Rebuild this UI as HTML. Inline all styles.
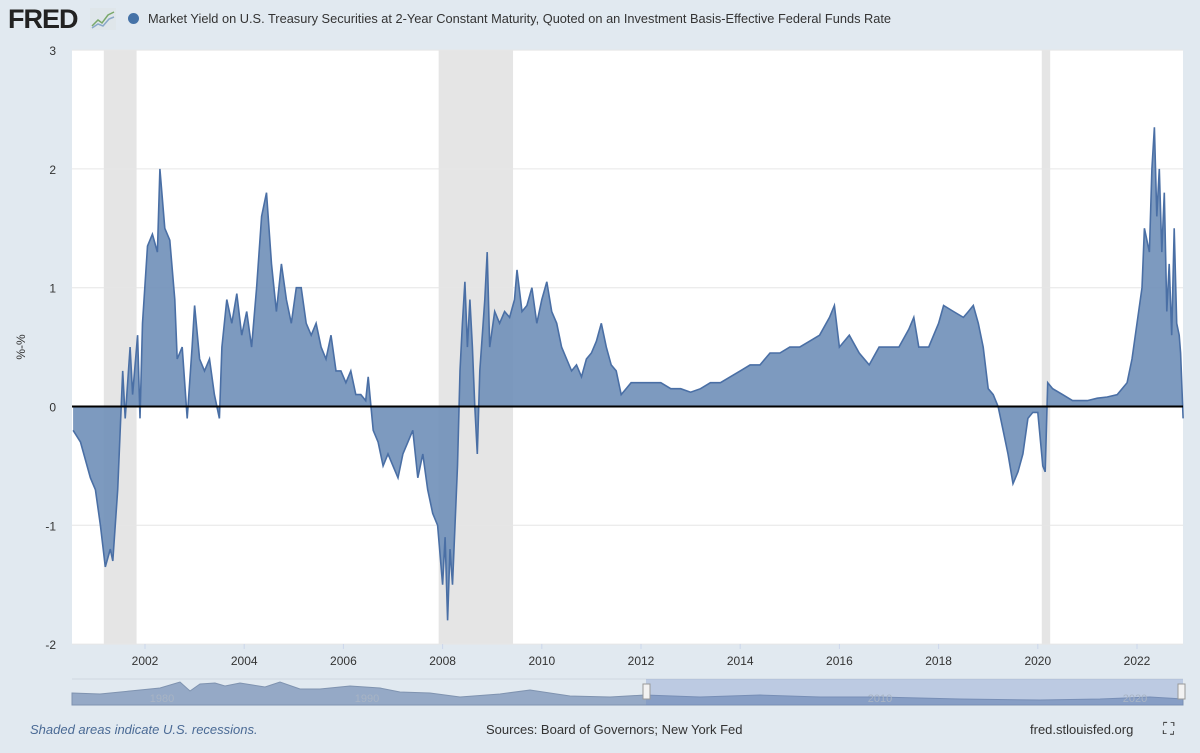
<!DOCTYPE html>
<html><head><meta charset="utf-8"><style>
body{margin:0;width:1200px;height:753px;background:#e1e9f0;font-family:"Liberation Sans",sans-serif;overflow:hidden;position:relative}
.t{position:absolute;white-space:nowrap}
</style></head><body>
<div class="t" style="left:8px;top:4px;font-size:27px;font-weight:bold;letter-spacing:-1px;color:#222">FRED</div>
<svg class="t" style="left:90px;top:8px" width="26" height="22"><rect width="26" height="22" fill="#dfe6ea"/><polyline points="2,18 8,12 12,15 18,7 24,4" fill="none" stroke="#7aa86a" stroke-width="1.5"/><polyline points="2,20 8,16 13,18 19,11 24,9" fill="none" stroke="#8aa8c8" stroke-width="1.5"/></svg>
<div class="t" style="left:128px;top:13px;width:11px;height:11px;border-radius:50%;background:#4572a7"></div>
<div class="t" style="left:148px;top:11px;font-size:12.8px;color:#333">Market Yield on U.S. Treasury Securities at 2-Year Constant Maturity, Quoted on an Investment Basis-Effective Federal Funds Rate</div>
<svg id="chart" class="t" style="left:0;top:0" width="1200" height="753"></svg>
<div class="t" style="left:30px;top:722px;font-size:13px;font-style:italic;color:#4a6a95">Shaded areas indicate U.S. recessions.</div>
<div class="t" style="left:486px;top:722px;font-size:13px;color:#333">Sources: Board of Governors; New York Fed</div>
<div class="t" style="left:1030px;top:722px;font-size:13px;color:#333">fred.stlouisfed.org</div>
<div class="t" style="left:1163px;top:721px;font-size:16px;color:#333">⛶</div>
<script>
const dates=[2000.55,2000.7,2000.9,2001.0,2001.1,2001.2,2001.3,2001.35,2001.45,2001.55,2001.6,2001.7,2001.75,2001.85,2001.9,2001.95,2002.05,2002.15,2002.25,2002.3,2002.4,2002.5,2002.6,2002.65,2002.75,2002.85,2002.95,2003.0,2003.1,2003.2,2003.3,2003.4,2003.5,2003.55,2003.65,2003.75,2003.85,2003.95,2004.05,2004.15,2004.25,2004.35,2004.45,2004.55,2004.65,2004.75,2004.85,2004.95,2005.05,2005.15,2005.25,2005.35,2005.45,2005.55,2005.65,2005.75,2005.85,2005.95,2006.05,2006.15,2006.25,2006.35,2006.45,2006.5,2006.6,2006.7,2006.8,2006.9,2007.0,2007.1,2007.2,2007.3,2007.4,2007.5,2007.6,2007.7,2007.8,2007.9,2008.0,2008.05,2008.1,2008.15,2008.2,2008.25,2008.3,2008.35,2008.4,2008.45,2008.5,2008.55,2008.6,2008.65,2008.7,2008.75,2008.85,2008.9,2008.95,2009.05,2009.15,2009.25,2009.35,2009.45,2009.5,2009.6,2009.7,2009.8,2009.9,2010.0,2010.1,2010.2,2010.3,2010.4,2010.5,2010.6,2010.7,2010.8,2010.9,2011.0,2011.1,2011.2,2011.3,2011.4,2011.5,2011.6,2011.7,2011.8,2012.0,2012.2,2012.4,2012.6,2012.8,2013.0,2013.2,2013.4,2013.6,2013.8,2014.0,2014.2,2014.4,2014.6,2014.8,2015.0,2015.2,2015.4,2015.6,2015.8,2015.9,2016.0,2016.2,2016.4,2016.6,2016.8,2017.0,2017.2,2017.4,2017.5,2017.6,2017.8,2018.0,2018.1,2018.3,2018.5,2018.6,2018.7,2018.8,2018.9,2019.0,2019.1,2019.2,2019.3,2019.4,2019.5,2019.6,2019.7,2019.8,2019.9,2020.0,2020.1,2020.15,2020.2,2020.3,2020.5,2020.7,2021.0,2021.2,2021.4,2021.6,2021.8,2021.9,2022.0,2022.1,2022.15,2022.25,2022.3,2022.35,2022.4,2022.45,2022.5,2022.55,2022.6,2022.65,2022.7,2022.75,2022.8,2022.85,2022.88,2022.93];
const spread=[-0.2,-0.3,-0.6,-0.7,-1.0,-1.35,-1.2,-1.3,-0.7,0.3,-0.1,0.5,0.1,0.6,-0.1,0.7,1.35,1.45,1.3,2.0,1.5,1.4,0.9,0.4,0.5,-0.1,0.5,0.85,0.4,0.3,0.4,0.1,-0.1,0.5,0.9,0.7,0.95,0.6,0.8,0.5,1.0,1.6,1.8,1.2,0.8,1.2,0.9,0.7,1.0,1.0,0.7,0.6,0.7,0.5,0.4,0.6,0.3,0.3,0.2,0.3,0.1,0.1,0.05,0.25,-0.2,-0.3,-0.5,-0.4,-0.5,-0.6,-0.4,-0.3,-0.2,-0.6,-0.4,-0.7,-0.9,-1.0,-1.5,-1.1,-1.8,-1.2,-1.5,-1.0,-0.5,0.3,0.7,1.05,0.5,0.9,0.5,0.0,-0.4,0.3,0.9,1.3,0.5,0.8,0.7,0.8,0.75,0.9,1.15,0.8,0.85,1.0,0.7,0.9,1.05,0.8,0.7,0.5,0.4,0.3,0.35,0.25,0.4,0.45,0.55,0.7,0.5,0.35,0.3,0.1,0.15,0.2,0.2,0.2,0.2,0.15,0.15,0.12,0.15,0.2,0.2,0.25,0.3,0.35,0.35,0.45,0.45,0.5,0.5,0.55,0.6,0.75,0.85,0.5,0.6,0.45,0.35,0.5,0.5,0.5,0.65,0.75,0.5,0.5,0.7,0.85,0.8,0.75,0.8,0.85,0.7,0.5,0.15,0.1,0.0,-0.2,-0.4,-0.65,-0.55,-0.4,-0.1,-0.05,-0.05,-0.5,-0.55,0.2,0.15,0.1,0.05,0.05,0.07,0.08,0.1,0.2,0.4,0.7,1.0,1.5,1.3,2.0,2.35,1.6,2.0,1.3,1.8,0.8,1.2,0.6,1.5,0.7,0.6,0.45,-0.1];
const yTicks=[-2,-1,0,1,2,3];
const xTicks=[2002,2004,2006,2008,2010,2012,2014,2016,2018,2020,2022];
const recStart=[2001.17,2007.92,2020.08];
const recEnd=[2001.83,2009.42,2020.25];
const navLabels=[1980,1990,2010,2020];

const L=72,R=1183,T=50,B=644;
const x=d=>145+(d-2002)*49.6;
const y=v=>406.5-v*118.8;
const svg=document.getElementById('chart');
const NS='http://www.w3.org/2000/svg';
function mk(tag,attrs){const e=document.createElementNS(NS,tag);for(const k in attrs)e.setAttribute(k,attrs[k]);svg.appendChild(e);return e;}
const bg=mk('rect',{x:L,y:T,width:R-L,height:B-T,fill:'#fff'});


recStart.forEach((s,i)=>{const r=mk('rect',{x:x(s),y:T,width:x(recEnd[i])-x(s),height:B-T,fill:'#e5e5e5'});

});
yTicks.forEach(v=>{const g=mk('line',{x1:L,x2:R,y1:y(v),y2:y(v),stroke:'#e6e6e6'});


const t=mk('text',{x:56,y:y(v)+5,'text-anchor':'end','font-size':12,fill:'#333','font-family':'Liberation Sans'});t.textContent=v;

});
xTicks.forEach(v=>{const t=mk('text',{x:x(v),y:665,'text-anchor':'middle','font-size':12,fill:'#333','font-family':'Liberation Sans'});t.textContent=v;


const k=mk('line',{x1:x(v),x2:x(v),y1:B,y2:B+5,stroke:'#ccd6eb'});

});
const yt=mk('text',{x:0,y:0,transform:'translate(25,347) rotate(-90)','text-anchor':'middle','font-size':12,fill:'#333','font-family':'Liberation Sans'});yt.textContent='%-%';


let pts=dates.map((d,i)=>x(d).toFixed(1)+','+y(spread[i]).toFixed(1));
const area=mk('path',{d:'M'+x(dates[0])+','+y(0)+' L'+pts.join(' L')+' L'+x(dates[dates.length-1])+','+y(0)+'Z',fill:'#6f8fb8',opacity:0.9});


const line=mk('polyline',{points:pts.join(' '),fill:'none',stroke:'#4a6fa5','stroke-width':1.6});


const zl=mk('line',{x1:L,x2:R,y1:y(0),y2:y(0),stroke:'#000','stroke-width':2});


const nb=mk('line',{x1:L,x2:R,y1:679,y2:679,stroke:'#cfd8e0'});


const nav=mk('path',{d:'M72,693 L100,694 L130,691 L160,688 L180,682 L190,691 L200,684 L215,683 L225,686 L240,683 L265,687 L280,682 L300,689 L320,689 L330,688 L350,686 L380,688 L400,692 L430,693 L460,697 L500,694 L530,690 L570,696 L610,697 L645,695 L700,697 L760,695 L820,697 L880,697 L960,699 L1040,700 L1100,699 L1150,697 L1183,699 L1183,705 L72,705Z',fill:'#95a9c6',stroke:'#7f93b0'});


const sel=mk('rect',{x:646,y:679,width:537,height:26,fill:'rgba(102,133,194,0.3)'});


[646,1181].forEach(hx=>{const h=mk('rect',{x:hx-3,y:684,width:7,height:15,fill:'#f2f2f2',stroke:'#999'});

});
const navX=[162,367,880,1135];
navLabels.forEach((v,i)=>{const t=mk('text',{x:navX[i],y:702,'text-anchor':'middle','font-size':11,fill:'#a8b4c4','font-family':'Liberation Sans'});t.textContent=v;

});
</script>
</body></html>
